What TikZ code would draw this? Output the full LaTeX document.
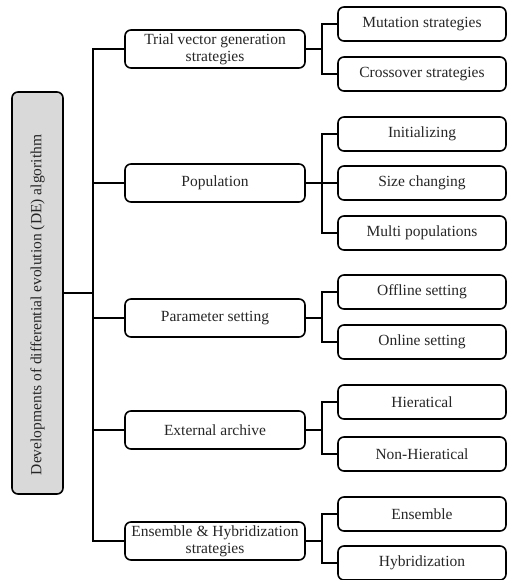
\documentclass[tikz,border=0pt]{standalone}
\usepackage{fontspec}
\setmainfont{Liberation Serif}
\usepackage{graphicx}
\begin{document}
\begin{tikzpicture}[x=1pt,y=-1pt,
  every node/.style={font=\fontsize{15.5}{17}\selectfont, text=black!85},
  box/.style={draw=black, line width=1.6pt, rounded corners=6pt, fill=white, align=center, inner sep=2pt},
  rootbox/.style={box, fill=black!15, minimum width=51pt, minimum height=402pt},
  midbox/.style={box, minimum width=180pt, minimum height=38pt},
  leafbox/.style={box, minimum width=168pt, minimum height=34pt},
  link/.style={draw=black, line width=1.6pt}]
\useasboundingbox (0,0) rectangle (509,580);

\node[rootbox] (root) at (37.5,293) {\rotatebox{90}{Developments of differential evolution (DE) algorithm\hspace*{24pt}}};

\node[midbox] (t1) at (215,49) {Trial vector generation\\strategies};
\node[midbox] (t2) at (215,183) {Population};
\node[midbox] (t3) at (215,318) {Parameter setting};
\node[midbox] (t4) at (215,430) {External archive};
\node[midbox] (t5) at (215,541) {Ensemble \& Hybridization\\strategies};

\node[leafbox] (a1) at (422,24) {Mutation strategies};
\node[leafbox] (a2) at (422,74) {Crossover strategies};
\node[leafbox] (b1) at (422,134) {Initializing};
\node[leafbox] (b2) at (422,183) {Size changing};
\node[leafbox] (b3) at (422,233) {Multi populations};
\node[leafbox] (c1) at (422,292) {Offline setting};
\node[leafbox] (c2) at (422,342) {Online setting};
\node[leafbox] (d1) at (422,402) {Hieratical};
\node[leafbox] (d2) at (422,454) {Non-Hieratical};
\node[leafbox] (e1) at (422,514) {Ensemble};
\node[leafbox] (e2) at (422,563) {Hybridization};

\coordinate (tk) at (93,0);
\coordinate (br) at (322,0);

% trunk
\draw[link] (t1.west) -- (t1.west -| tk) -- (t5.west -| tk) -- (t5.west);
\draw[link] (root.east) -- (root.east -| tk);
\draw[link] (t2.west) -- (t2.west -| tk);
\draw[link] (t3.west) -- (t3.west -| tk);
\draw[link] (t4.west) -- (t4.west -| tk);

% branches
\draw[link] (a1.west) -- (a1.west -| br) -- (a2.west -| br) -- (a2.west);
\draw[link] (t1.east) -- (t1.east -| br);
\draw[link] (b1.west) -- (b1.west -| br) -- (b3.west -| br) -- (b3.west);
\draw[link] (t2.east) -- (b2.west);
\draw[link] (c1.west) -- (c1.west -| br) -- (c2.west -| br) -- (c2.west);
\draw[link] (t3.east) -- (t3.east -| br);
\draw[link] (d1.west) -- (d1.west -| br) -- (d2.west -| br) -- (d2.west);
\draw[link] (t4.east) -- (t4.east -| br);
\draw[link] (e1.west) -- (e1.west -| br) -- (e2.west -| br) -- (e2.west);
\draw[link] (t5.east) -- (t5.east -| br);
\end{tikzpicture}
\end{document}
